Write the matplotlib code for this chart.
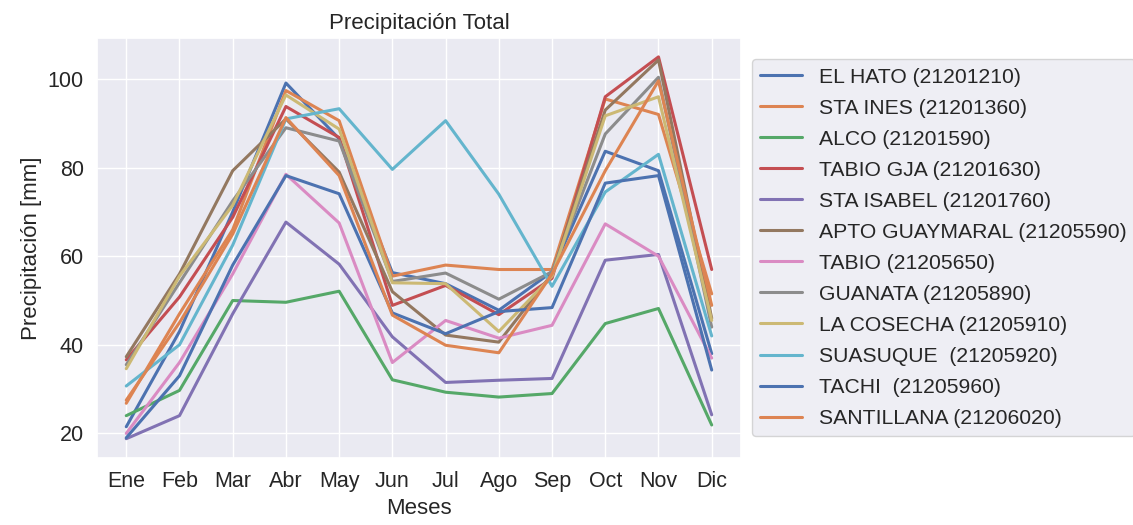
import numpy as np
import matplotlib
matplotlib.use('Agg')
import matplotlib.pyplot as plt
import seaborn as sns

sns.set_theme(style='darkgrid')
plt.rcParams['font.family'] = ['Liberation Sans', 'DejaVu Sans']

meses = ['Ene', 'Feb', 'Mar', 'Abr', 'May', 'Jun', 'Jul', 'Ago', 'Sep', 'Oct', 'Nov', 'Dic']

estaciones = ['EL HATO (21201210)', 'STA INES (21201360)', 'ALCO (21201590)',
              'TABIO GJA (21201630)', 'STA ISABEL (21201760)', 'APTO GUAYMARAL (21205590)',
              'TABIO (21205650)', 'GUANATA (21205890)', 'LA COSECHA (21205910)',
              'SUASUQUE  (21205920)', 'TACHI  (21205960)', 'SANTILLANA (21206020)']

el_hato = [21.5, 43, 70, 99.1, 86.5, 56.3, 53.8, 47.8, 56.5, 83.7, 79.3, 38]
sta_ines = [26.8, 47, 66, 97.4, 90.6, 55.5, 58, 57, 57, 95.5, 92, 51.5]
alco = [24, 29.7, 50, 49.6, 52.1, 32.1, 29.3, 28.2, 29, 44.8, 48.2, 21.9]
tabio_gja = [36.6, 50.8, 68.8, 93.8, 86.8, 48.9, 53.4, 46.8, 55, 96, 105, 57]
sta_isabel = [18.8, 24, 47, 67.7, 58.2, 41.8, 31.5, 32, 32.4, 59.1, 60.4, 24.2]
guaymaral = [37.3, 56, 79.3, 91, 79, 52, 42.2, 40.6, 56, 93, 104.3, 46]
tabio = [20, 36, 56, 78.5, 67.5, 36, 45.5, 41.5, 44.4, 67.3, 60, 37]
guanata = [35.5, 54, 72.5, 89, 86, 54.3, 56.2, 50.3, 56.5, 87.6, 100.4, 44]
la_cosecha = [34.6, 55.5, 71.5, 96.4, 88.7, 54, 53.8, 43, 55.5, 91.7, 96, 45.5]
suasuque = [30.7, 40, 62.5, 91, 93.3, 79.6, 90.6, 74, 53.2, 74.5, 83, 42]
tachi = [19, 33, 58, 78.2, 74.1, 47.2, 42.5, 47.5, 48.4, 76.5, 78.2, 34.3]
santillana = [27.5, 45, 65, 91.3, 78.2, 46.7, 39.9, 38.2, 56, 79.3, 99.6, 48.9]

datos = [el_hato, sta_ines, alco, tabio_gja, sta_isabel, guaymaral,
         tabio, guanata, la_cosecha, suasuque, tachi, santillana]

fig = plt.figure(figsize=(11.33, 5.25), dpi=100)
ax = fig.add_axes([0.0856, 0.128, 0.5684, 0.8])
for nombre, serie in zip(estaciones, datos):
	ax.plot(meses, serie, label=nombre, linewidth=2.2)

ax.set_title('Precipitación Total', fontsize=16)
ax.set_xlabel('Meses', fontsize=16)
ax.set_ylabel('Precipitación [mm]', fontsize=16)
ax.tick_params(labelsize=15.5)
ax.legend(loc='center left', bbox_to_anchor=(1.0, 0.5), fontsize=15.2,
          labelspacing=0.57, handletextpad=0.8)

plt.savefig('out.png', dpi=100)
